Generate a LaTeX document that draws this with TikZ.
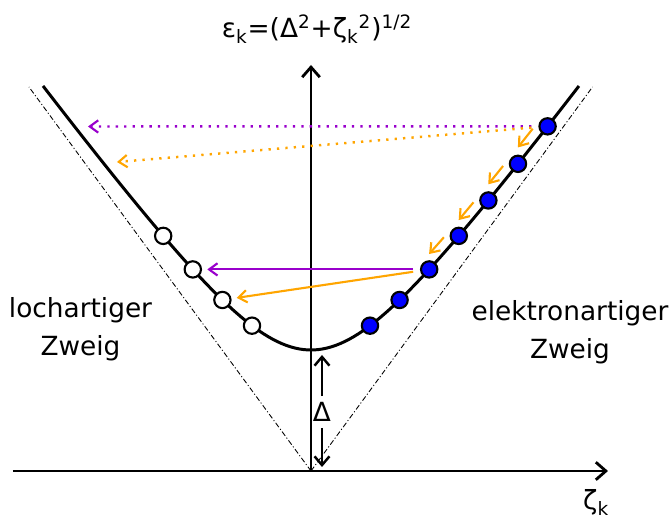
\documentclass[tikz,border=0pt]{standalone}
\usepackage{fontspec}
\setmainfont{DejaVu Sans}
\usepackage{tikz,xcolor}
\usetikzlibrary{arrows.meta,calc}
\definecolor{lila}{RGB}{153,0,204}
\definecolor{orng}{RGB}{255,165,0}

\begin{document}
\begin{tikzpicture}[x=1cm,y=1cm,font=\fontsize{15}{21.5}\selectfont,
  axis/.style={line width=1.6pt,-{Straight Barb[length=5.7pt,width=10pt,line width=1.6pt]}},
  asym/.style={line width=0.5pt,dash pattern=on 3pt off 1.3pt on 0.6pt off 1.3pt},
  elek/.style={draw,circle,fill=blue,line width=1.2pt,minimum size=9.3pt,inner sep=0pt},
  loch/.style={draw,circle,fill=white,line width=1.2pt,minimum size=9.3pt,inner sep=0pt},
  pfeil/.style={line width=1.2pt,-{Straight Barb[length=4.8pt,width=7pt,line width=1.2pt]}},
  punkte/.style={pfeil,line width=1.4pt,dash pattern=on 1.3pt off 3.5pt}]
\useasboundingbox (-6.22,-1) rectangle (7.22,9.42);

    \coordinate (o) at (0,0);
    \coordinate (xl) at (-5.96,0);
    \coordinate (xr) at (5.94,0);
    \coordinate (yt) at (0,8.12);
    \coordinate (al) at (-5.64,7.68);
    \coordinate (ar) at (5.63,7.68);
    %\coordinate (m) at (0,2.42);
    \coordinate (pz) at (-4.46,6.89);
    \coordinate (oz) at (-3.88,6.18);
    \coordinate (dt) at (0.22,2.32);
    \coordinate (db) at (0.22,0.08);

    \draw[asym] (o)--(al);
    \draw[asym] (o)--(ar);
    \draw[axis] (xl)--(xr);
    \draw[axis] (o)--(yt);

    \draw[line width=1.7pt,domain=-5.36:5.36,samples=120]
      plot (\x,{sqrt(5.8564+1.8605*\x*\x)});

    \node[anchor=base] (eps) at (0.12,8.66)
      {ε\textsubscript{k}=(Δ\textsuperscript{2}+ζ\textsubscript{k}\textsuperscript{2})\textsuperscript{1/2}};
    \node[anchor=base west] (zeta) at (5.32,-0.78) {ζ\textsubscript{k}};

    \node (d) at (0.22,1.18) {Δ};
    \draw[line width=1.4pt,-{Straight Barb[length=5pt,width=8.5pt,line width=1.4pt]}] (d)--(dt);
    \draw[line width=1.4pt,-{Straight Barb[length=5pt,width=8.5pt,line width=1.4pt]}] (d)--(db);

    \node[align=center,anchor=north,inner sep=0pt] (lz) at (-4.61,3.48) {lochartiger\\Zweig};
    \node[align=center,anchor=north,inner sep=0pt] (ez) at (5.18,3.42) {elektronartiger\\Zweig};

    \foreach \i in {1,...,7}{
      \pgfmathsetmacro\z{1.18+0.592*(\i-1)}
      \node[elek] (e\i) at (\z,{sqrt(5.8564+1.8605*\z*\z)}) {};
    }
    \foreach \i in {1,...,4}{
      \pgfmathsetmacro\z{-1.18-0.592*(\i-1)}
      \node[loch] (h\i) at (\z,{sqrt(5.8564+1.8605*\z*\z)}) {};
    }

    \foreach \a/\b in {7/6,6/5,5/4,4/3}
      \draw[pfeil,orng] ($(e\a)!0.25!(e\b)+(-0.15,0.14)$)--($(e\a)!0.75!(e\b)+(-0.15,0.14)$);

    \draw[punkte,lila,shorten <=4pt] (e7)--(pz);
    \draw[punkte,orng,shorten <=4pt] (e7)--(oz);
    \draw[pfeil,lila,shorten <=4pt,shorten >=3pt] (e3)--(h3);
    \draw[pfeil,orng,shorten <=4pt,shorten >=3pt] (e3)--(h2);
\end{tikzpicture}
\end{document}
